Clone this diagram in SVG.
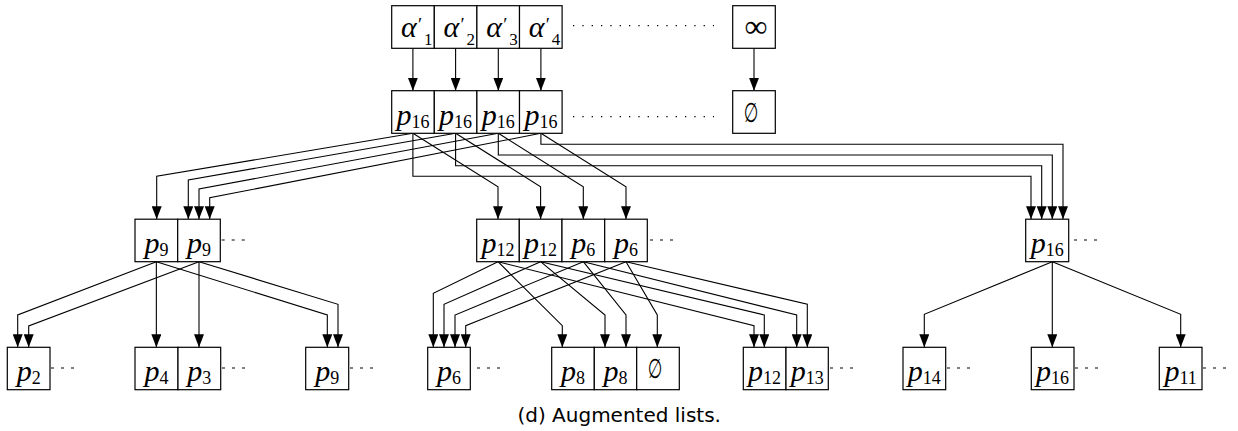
<svg xmlns="http://www.w3.org/2000/svg" width="1238" height="431" viewBox="0 0 1238 431">
<style>
.box{fill:#fff;stroke:#000;stroke-width:1.2}
.c{fill:none;stroke:#000;stroke-width:1.1;marker-end:url(#ah)}
.dash{stroke:#000;stroke-width:1.2;stroke-dasharray:3 7}
.dot{stroke:#000;stroke-width:1.2;stroke-dasharray:1.3 8.03}
.m{font-family:"Liberation Serif",serif;font-size:30px;text-anchor:middle}
.ms{font-family:"Liberation Serif",serif;font-size:30px}
.i{font-style:italic}
.s{font-size:18px;font-style:normal}
.pr{font-size:19px;font-style:normal}
.sb{font-size:17px;font-style:normal}
.es{font-family:"DejaVu Sans",sans-serif;font-size:27px;text-anchor:middle}
.cap{font-family:"DejaVu Sans",sans-serif;font-size:20px;text-anchor:middle}
</style>
<defs>
<marker id="ah" markerUnits="userSpaceOnUse" markerWidth="13" markerHeight="10" refX="13" refY="5" orient="auto"><path d="M0,0 L13,5 L0,10 z" fill="#000"/></marker>
</defs>
<g id="connectors">
<path class="c" d="M412.9,48.3 V90.7"/>
<path class="c" d="M455.6,48.3 V90.7"/>
<path class="c" d="M498.3,48.3 V90.7"/>
<path class="c" d="M540.9,48.3 V90.7"/>
<path class="c" d="M754,48.3 V90.7"/>
<path class="c" d="M412.9,133.3 L156.7,176.3 V219.2"/>
<path class="c" d="M455.6,133.3 L188.3,180 V219.2"/>
<path class="c" d="M498.3,133.3 L199,189 V219.2"/>
<path class="c" d="M540.9,133.3 L209.7,197.7 V219.2"/>
<path class="c" d="M412.9,133.3 L498,186.7 V219.2"/>
<path class="c" d="M455.6,133.3 L540.6,186.7 V219.2"/>
<path class="c" d="M498.3,133.3 L583.3,186.7 V219.2"/>
<path class="c" d="M540.9,133.3 L626,186.7 V219.2"/>
<path class="c" d="M412.9,133.3 V176.3 H1031 V219.2"/>
<path class="c" d="M455.6,133.3 V165.7 H1041.7 V219.2"/>
<path class="c" d="M498.3,133.3 V155 H1052.3 V219.2"/>
<path class="c" d="M540.9,133.3 V144.3 H1063 V219.2"/>
<path class="c" d="M156.35,261.7 L17.7,315 V347.3"/>
<path class="c" d="M156.35,261.7 V347.3"/>
<path class="c" d="M156.35,261.7 L327.3,315 V347.3"/>
<path class="c" d="M199,261.7 L28.7,326 V347.3"/>
<path class="c" d="M199,261.7 V347.3"/>
<path class="c" d="M199,261.7 L338,304.3 V347.3"/>
<path class="c" d="M498,261.7 L433.3,293.3 V347.3"/>
<path class="c" d="M498,261.7 L562.3,325.7 V347.3"/>
<path class="c" d="M498,261.7 L754,325.7 V347.3"/>
<path class="c" d="M540.6,261.7 L444,304.3 V347.3"/>
<path class="c" d="M540.6,261.7 L605,315 V347.3"/>
<path class="c" d="M540.6,261.7 L764.3,315 V347.3"/>
<path class="c" d="M583.3,261.7 L455,315 V347.3"/>
<path class="c" d="M583.3,261.7 L626,315 V347.3"/>
<path class="c" d="M583.3,261.7 L796.7,315 V347.3"/>
<path class="c" d="M626,261.7 L465.7,325.7 V347.3"/>
<path class="c" d="M626,261.7 L657.3,315 V347.3"/>
<path class="c" d="M626,261.7 L807.3,304.3 V347.3"/>
<path class="c" d="M1052.3,261.7 L924.3,314.3 V347.3"/>
<path class="c" d="M1052.3,261.7 V347.3"/>
<path class="c" d="M1052.3,261.7 L1180.7,314.3 V347.3"/>
</g>
<g id="ellipses">
<line class="dot" x1="573" y1="25.7" x2="714" y2="25.7"/>
<line class="dot" x1="573" y1="116.7" x2="714" y2="116.7"/>
<line class="dash" x1="221.7" y1="240" x2="245" y2="240"/>
<line class="dash" x1="650" y1="240" x2="673" y2="240"/>
<line class="dash" x1="1074" y1="240" x2="1097" y2="240"/>
<line class="dash" x1="51" y1="368" x2="74" y2="368"/>
<line class="dash" x1="222" y1="368" x2="245" y2="368"/>
<line class="dash" x1="350" y1="368" x2="373" y2="368"/>
<line class="dash" x1="477" y1="368" x2="500" y2="368"/>
<line class="dash" x1="830" y1="368" x2="853" y2="368"/>
<line class="dash" x1="947" y1="368" x2="970" y2="368"/>
<line class="dash" x1="1075" y1="368" x2="1098" y2="368"/>
<line class="dash" x1="1203" y1="368" x2="1226" y2="368"/>
</g>
<g id="a1"><rect class="box" x="391.7" y="5.7" width="42.6" height="42.6"/><text class="ms" x="401" y="37"><tspan class="i">α</tspan><tspan class="pr" x="418" y="31">′</tspan><tspan class="sb" x="424" y="44.5">1</tspan></text></g>
<g id="a2"><rect class="box" x="434.3" y="5.7" width="42.6" height="42.6"/><text class="ms" x="443.6" y="37"><tspan class="i">α</tspan><tspan class="pr" x="460.6" y="31">′</tspan><tspan class="sb" x="466.6" y="44.5">2</tspan></text></g>
<g id="a3"><rect class="box" x="476.9" y="5.7" width="42.6" height="42.6"/><text class="ms" x="486.2" y="37"><tspan class="i">α</tspan><tspan class="pr" x="503.2" y="31">′</tspan><tspan class="sb" x="509.2" y="44.5">3</tspan></text></g>
<g id="a4"><rect class="box" x="519.5" y="5.7" width="42.6" height="42.6"/><text class="ms" x="528.8" y="37"><tspan class="i">α</tspan><tspan class="pr" x="545.8" y="31">′</tspan><tspan class="sb" x="551.8" y="44.5">4</tspan></text></g>
<g id="inf"><rect class="box" x="732.7" y="5.7" width="42.6" height="42.6"/><text class="m" x="756" y="37" style="font-size:32px">∞</text></g>
<g id="r2c1"><rect class="box" x="391.7" y="90.7" width="42.6" height="42.6"/><text class="m" x="412.9" y="124.5"><tspan class="i">p</tspan><tspan class="s" dy="3">16</tspan></text></g>
<g id="r2c2"><rect class="box" x="434.3" y="90.7" width="42.6" height="42.6"/><text class="m" x="455.6" y="124.5"><tspan class="i">p</tspan><tspan class="s" dy="3">16</tspan></text></g>
<g id="r2c3"><rect class="box" x="476.9" y="90.7" width="42.6" height="42.6"/><text class="m" x="498.3" y="124.5"><tspan class="i">p</tspan><tspan class="s" dy="3">16</tspan></text></g>
<g id="r2c4"><rect class="box" x="519.5" y="90.7" width="42.6" height="42.6"/><text class="m" x="540.9" y="124.5"><tspan class="i">p</tspan><tspan class="s" dy="3">16</tspan></text></g>
<g id="empty1"><rect class="box" x="732.7" y="90.7" width="42.6" height="42.6"/><text class="es" transform="translate(751,122) scale(0.62,1)">∅</text></g>
<g id="m1"><rect class="box" x="135" y="219.2" width="42.7" height="42.5"/><text class="m" x="156.4" y="253"><tspan class="i">p</tspan><tspan class="s" dy="3">9</tspan></text></g>
<g id="m2"><rect class="box" x="177.7" y="219.2" width="42.6" height="42.5"/><text class="m" x="199" y="253"><tspan class="i">p</tspan><tspan class="s" dy="3">9</tspan></text></g>
<g id="m3"><rect class="box" x="476.7" y="219.2" width="42.6" height="42.5"/><text class="m" x="498" y="253"><tspan class="i">p</tspan><tspan class="s" dy="3">12</tspan></text></g>
<g id="m4"><rect class="box" x="519.3" y="219.2" width="42.7" height="42.5"/><text class="m" x="540.6" y="253"><tspan class="i">p</tspan><tspan class="s" dy="3">12</tspan></text></g>
<g id="m5"><rect class="box" x="562" y="219.2" width="42.7" height="42.5"/><text class="m" x="583.3" y="253"><tspan class="i">p</tspan><tspan class="s" dy="3">6</tspan></text></g>
<g id="m6"><rect class="box" x="604.7" y="219.2" width="42.6" height="42.5"/><text class="m" x="626" y="253"><tspan class="i">p</tspan><tspan class="s" dy="3">6</tspan></text></g>
<g id="m7"><rect class="box" x="1025.7" y="219.2" width="43" height="42.5"/><text class="m" x="1047.2" y="253"><tspan class="i">p</tspan><tspan class="s" dy="3">16</tspan></text></g>
<g id="b1"><rect class="box" x="7.3" y="347.3" width="42.7" height="42.4"/><text class="m" x="28.7" y="381.3"><tspan class="i">p</tspan><tspan class="s" dy="3">2</tspan></text></g>
<g id="b2"><rect class="box" x="135" y="347.3" width="43" height="42.4"/><text class="m" x="156.5" y="381.3"><tspan class="i">p</tspan><tspan class="s" dy="3">4</tspan></text></g>
<g id="b3"><rect class="box" x="178" y="347.3" width="42.7" height="42.4"/><text class="m" x="199.3" y="381.3"><tspan class="i">p</tspan><tspan class="s" dy="3">3</tspan></text></g>
<g id="b4"><rect class="box" x="305.7" y="347.3" width="43" height="42.4"/><text class="m" x="327.2" y="381.3"><tspan class="i">p</tspan><tspan class="s" dy="3">9</tspan></text></g>
<g id="b5"><rect class="box" x="427.7" y="347.3" width="42.6" height="42.4"/><text class="m" x="449" y="381.3"><tspan class="i">p</tspan><tspan class="s" dy="3">6</tspan></text></g>
<g id="b6"><rect class="box" x="551.7" y="347.3" width="42.6" height="42.4"/><text class="m" x="573" y="381.3"><tspan class="i">p</tspan><tspan class="s" dy="3">8</tspan></text></g>
<g id="b7"><rect class="box" x="594.3" y="347.3" width="42.4" height="42.4"/><text class="m" x="615.5" y="381.3"><tspan class="i">p</tspan><tspan class="s" dy="3">8</tspan></text></g>
<g id="b8"><rect class="box" x="636.7" y="347.3" width="42.6" height="42.4"/><text class="es" transform="translate(655,378) scale(0.62,1)">∅</text></g>
<g id="b9"><rect class="box" x="743.3" y="347.3" width="42.7" height="42.4"/><text class="m" x="764.6" y="381.3"><tspan class="i">p</tspan><tspan class="s" dy="3">12</tspan></text></g>
<g id="b10"><rect class="box" x="786" y="347.3" width="42.3" height="42.4"/><text class="m" x="807.2" y="381.3"><tspan class="i">p</tspan><tspan class="s" dy="3">13</tspan></text></g>
<g id="b11"><rect class="box" x="903" y="347.3" width="42.7" height="42.4"/><text class="m" x="924.3" y="381.3"><tspan class="i">p</tspan><tspan class="s" dy="3">14</tspan></text></g>
<g id="b12"><rect class="box" x="1031.3" y="347.3" width="42.7" height="42.4"/><text class="m" x="1052.6" y="381.3"><tspan class="i">p</tspan><tspan class="s" dy="3">16</tspan></text></g>
<g id="b13"><rect class="box" x="1159.3" y="347.3" width="42.7" height="42.4"/><text class="m" x="1180.6" y="381.3"><tspan class="i">p</tspan><tspan class="s" dy="3">11</tspan></text></g>
<text class="cap" x="619.2" y="421.7">(d) Augmented lists.</text>
</svg>
